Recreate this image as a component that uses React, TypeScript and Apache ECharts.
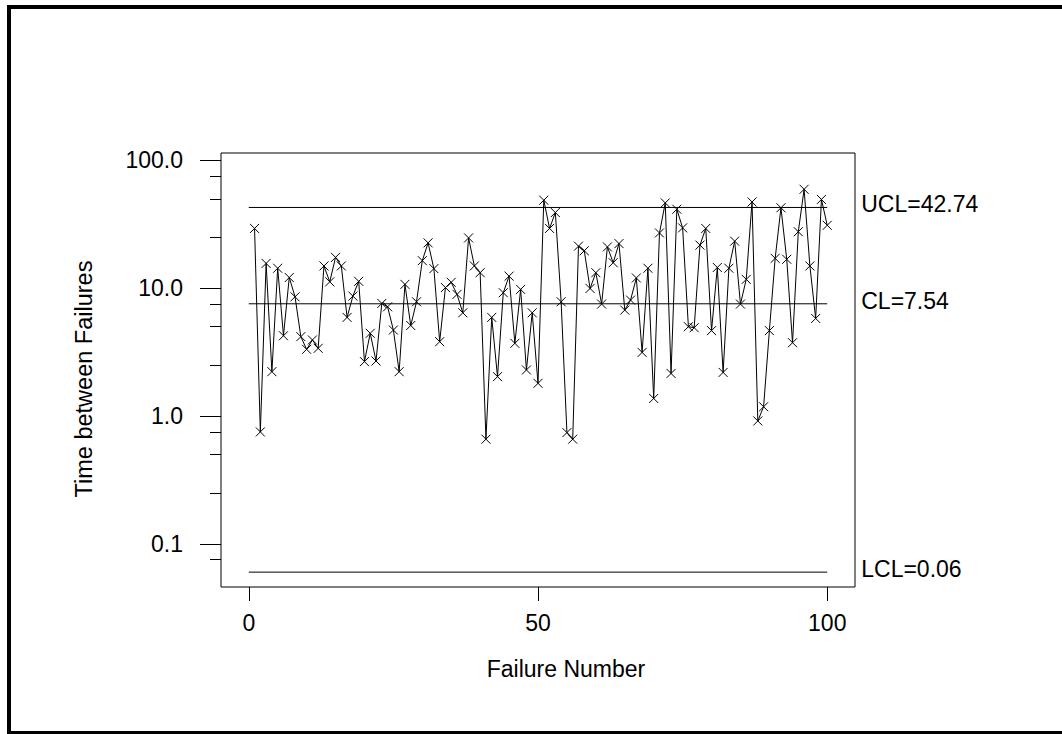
import React, { useEffect, useRef } from 'react';
import * as echarts from 'echarts';

const failureTimes = [
  29.3, 0.75, 15.6, 2.22, 14.3, 4.24, 12.1, 8.55, 4.17, 3.32,
  3.93, 3.38, 14.9, 11.2, 17.4, 14.9, 5.9, 8.66, 11.3, 2.66,
  4.43, 2.69, 7.59, 7.14, 4.7, 2.22, 10.7, 5.1, 7.82, 16.4,
  22.6, 14.2, 3.81, 10.1, 11.1, 8.93, 6.41, 24.7, 14.9, 13.2,
  0.658, 5.9, 2.03, 9.2, 12.4, 3.7, 9.77, 2.29, 6.41, 1.8,
  48.7, 29.3, 39.0, 7.82, 0.741, 0.658, 21.3, 19.6, 9.94, 13.2,
  7.5, 21.0, 15.8, 22.3, 6.73, 8.06, 12.0, 3.14, 14.3, 1.37,
  27.0, 46.4, 2.15, 41.4, 29.6, 4.99, 4.9, 21.7, 29.3, 4.65,
  14.5, 2.19, 14.3, 23.3, 7.5, 11.7, 47.2, 0.914, 1.18, 4.65,
  17.1, 42.5, 16.8, 3.74, 27.6, 59.3, 14.9, 5.79, 49.4, 31.0,
];

const yMajorTicks = [0.1, 1, 10, 100];
const yMinorTicks = [0.075, 0.25, 0.5, 0.75, 2.5, 5, 7.5, 25, 50, 75];
const xTicks = [0, 50, 100];
const limitNames = ['UCL', 'CL', 'LCL'];
const limitValues = [42.74, 7.54, 0.06];
const limitSpan = [0, 100];
const yRange = [0.0459, 114];
const xRange = [-4.8, 104.8];

const FONT = "'Liberation Sans', Arial, Helvetica, sans-serif";
const FS = 23;

function tickAxis(values: number[], length: number) {
  return {
    type: 'log',
    min: yRange[0],
    max: yRange[1],
    position: 'left',
    offset: 0,
    axisLine: { show: false },
    splitLine: { show: false },
    minorTick: { show: false },
    axisTick: {
      show: true,
      inside: false,
      customValues: values,
      length,
      lineStyle: { color: '#000', width: 1 },
    },
    axisLabel: { show: false },
  };
}

export default function App() {
  const ref = useRef<HTMLDivElement>(null);

  useEffect(() => {
    if (!ref.current) return;
    const chart = echarts.init(ref.current, undefined, { renderer: 'svg' });

    const mainData = failureTimes.map((v, i) => [i + 1, v]);

    const limitSeries = limitNames.map((name, k) => ({
      type: 'line',
      name,
      data: limitSpan.map((x) => [x, limitValues[k]]),
      symbol: 'none',
      silent: true,
      lineStyle: { color: '#000', width: 1 },
      endLabel: {
        show: true,
        formatter: `${name}=${limitValues[k].toFixed(2)}`,
        distance: 34,
        offset: [0, -3],
        color: '#000',
        fontFamily: FONT,
        fontSize: FS,
      },
    }));

    chart.setOption({
      animation: false,
      backgroundColor: '#fff',
      grid: {
        left: 221,
        top: 153,
        right: 207,
        bottom: 147,
        show: true,
        borderColor: '#000',
        borderWidth: 1,
        backgroundColor: 'transparent',
      },
      xAxis: {
        type: 'value',
        min: xRange[0],
        max: xRange[1],
        axisLine: { show: false },
        splitLine: { show: false },
        axisTick: {
          show: true,
          customValues: xTicks,
          length: 14,
          lineStyle: { color: '#000', width: 1 },
        },
        axisLabel: {
          customValues: xTicks,
          margin: 24,
          color: '#000',
          fontFamily: FONT,
          fontSize: FS,
        },
      },
      yAxis: [
        {
          type: 'log',
          min: yRange[0],
          max: yRange[1],
          position: 'left',
          offset: 0,
          axisLine: { show: false },
          splitLine: { show: false },
          minorTick: { show: false },
          axisTick: { show: false },
          axisLabel: {
            customValues: yMajorTicks,
            margin: 38,
            color: '#000',
            fontFamily: FONT,
            fontSize: FS,
            formatter: (v: number) => Number(v).toFixed(1),
          },
        },
        tickAxis(yMinorTicks, 11),
        tickAxis(yMajorTicks, 21),
      ],
      graphic: [
        {
          type: 'rect',
          shape: { x: 9, y: 7, width: 1100, height: 726 },
          style: { fill: 'none', stroke: '#000', lineWidth: 4 },
          silent: true,
        },
        {
          type: 'text',
          x: 566,
          y: 669,
          style: {
            text: 'Failure Number',
            align: 'center',
            verticalAlign: 'middle',
            fontFamily: FONT,
            fontSize: FS,
            fill: '#000',
          },
        },
        {
          type: 'text',
          x: 84,
          y: 379,
          rotation: Math.PI / 2,
          style: {
            text: 'Time between Failures',
            align: 'center',
            verticalAlign: 'middle',
            fontFamily: FONT,
            fontSize: 23.5,
            fill: '#000',
          },
        },
      ],
      series: [
        ...limitSeries,
        {
          type: 'line',
          name: 'Time between Failures',
          data: mainData,
          symbol: 'path://M0,0L10,10M10,0L0,10',
          symbolSize: 9,
          showAllSymbol: true,
          itemStyle: { color: '#000', borderColor: '#000', borderWidth: 1 },
          lineStyle: { color: '#000', width: 1 },
          silent: true,
        },
      ],
    });

    return () => chart.dispose();
  }, []);

  return (
    <div
      ref={ref}
      style={{ position: 'fixed', left: 0, top: 0, width: 1062, height: 734, background: '#fff' }}
    />
  );
}
